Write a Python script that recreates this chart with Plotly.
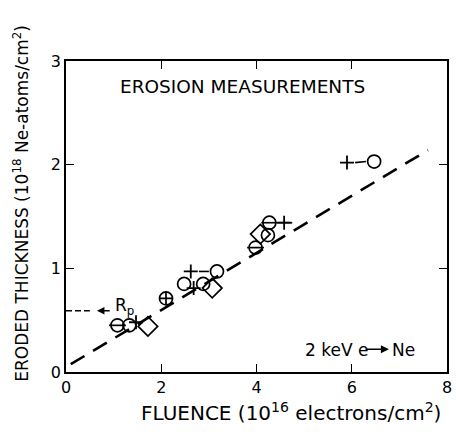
import plotly.graph_objects as go

# data (fluence in 1e16 e/cm2, eroded thickness in 1e18 Ne-atoms/cm2)
circle_x = [1.33, 2.48, 2.88, 3.17, 4.24, 4.27, 6.47]
circle_y = [0.45, 0.85, 0.85, 0.97, 1.32, 1.44, 2.03]
circle_minus_x = [1.08, 3.98]
circle_minus_y = [0.45, 1.20]
circle_plus_x = [2.10]
circle_plus_y = [0.71]
diamond_x = [1.72, 3.07, 4.08]
diamond_y = [0.44, 0.81, 1.33]
plus_x = [1.47, 2.68, 2.62, 4.58, 5.90]
plus_y = [0.48, 0.81, 0.97, 1.44, 2.02]
# pairs (plus index, circle index) joined by a short dash
pairs = [(2, 3), (3, 5), (4, 6)]
fit_x = [0.10, 7.60]
fit_y = [0.075, 2.14]
rp_value = 0.59

FONT = "DejaVu Sans"
fig = go.Figure()

fig.add_trace(go.Scatter(x=fit_x, y=fit_y, mode="lines",
                         line=dict(color="black", width=2.6, dash="16px,10px")))

# short connectors between + and circle
for pi, ci in pairs:
    x0, x1 = plus_x[pi], circle_x[ci]
    y0, y1 = plus_y[pi], circle_y[ci]
    g = 0.17
    fig.add_trace(go.Scatter(x=[x0 + g, x1 - g], y=[y0, y1],
                             mode="lines", line=dict(color="black", width=1.6)))

mk = dict(color="black", size=13, line=dict(color="black", width=1.7))
fig.add_trace(go.Scatter(x=circle_x, y=circle_y, mode="markers",
                         marker=dict(symbol="circle-open", **mk)))
fig.add_trace(go.Scatter(x=circle_minus_x, y=circle_minus_y, mode="markers",
                         marker=dict(symbol="circle-open", **mk)))
fig.add_trace(go.Scatter(x=circle_minus_x, y=circle_minus_y, mode="markers",
                         marker=dict(symbol="line-ew-open", color="black", size=12,
                                     line=dict(color="black", width=1.7))))
fig.add_trace(go.Scatter(x=circle_plus_x, y=circle_plus_y, mode="markers",
                         marker=dict(symbol="circle-cross-open", **mk)))
fig.add_trace(go.Scatter(x=diamond_x, y=diamond_y, mode="markers",
                         marker=dict(symbol="diamond-open", color="black", size=15,
                                     line=dict(color="black", width=1.7))))
fig.add_trace(go.Scatter(x=plus_x, y=plus_y, mode="markers",
                         marker=dict(symbol="cross-thin-open", color="black", size=10,
                                     line=dict(color="black", width=1.8))))

# Rp marker on the y axis
fig.add_trace(go.Scatter(x=[0, 0.5], y=[rp_value, rp_value], mode="lines",
                         line=dict(color="black", width=1.5, dash="6px,3px")))
fig.add_annotation(x=0.65, y=rp_value, ax=0.95, ay=rp_value, xref="x", yref="y",
                   axref="x", ayref="y", showarrow=True, arrowhead=2, arrowsize=1,
                   arrowwidth=1.5, arrowcolor="black", text="")
fig.add_annotation(x=0.98, y=rp_value + 0.04, xref="x", yref="y", xanchor="left",
                   yanchor="middle", showarrow=False,
                   text="R<sub>p</sub>", font=dict(family=FONT, size=17, color="black"))

fig.add_annotation(x=3.7, y=2.75, xref="x", yref="y", showarrow=False,
                   text="EROSION MEASUREMENTS",
                   font=dict(family=FONT, size=18.5, color="black"))
fig.add_annotation(x=4.97, y=0.21, xref="x", yref="y", xanchor="left", showarrow=False,
                   text="2 keV e", font=dict(family=FONT, size=17, color="black"))
fig.add_annotation(x=6.78, y=0.22, ax=6.26, ay=0.22, xref="x", yref="y",
                   axref="x", ayref="y", showarrow=True, arrowhead=2, arrowsize=1,
                   arrowwidth=1.6, arrowcolor="black", text="")
fig.add_annotation(x=6.8, y=0.21, xref="x", yref="y", xanchor="left", showarrow=False,
                   text="Ne", font=dict(family=FONT, size=17, color="black"))

# axis titles placed as in the reference
fig.add_annotation(x=0.59, y=-0.129, xref="paper", yref="paper", showarrow=False,
                   xanchor="center", yanchor="middle",
                   text="FLUENCE (10<sup>16</sup> electrons/cm<sup>2</sup>)",
                   font=dict(family=FONT, size=20, color="black"))
fig.add_annotation(x=-0.119, y=0.543, xref="paper", yref="paper", showarrow=False,
                   xanchor="center", yanchor="middle", textangle=-90,
                   text="ERODED THICKNESS (10<sup>18</sup> Ne-atoms/cm<sup>2</sup>)",
                   font=dict(family=FONT, size=17, color="black"))

axis_common = dict(showgrid=False, zeroline=False, showline=True, linecolor="black",
                   linewidth=1.5, mirror="ticks", ticks="inside", ticklen=8,
                   tickwidth=1.3, tickcolor="black",
                   tickfont=dict(family=FONT, size=16, color="black"))
fig.update_xaxes(range=[0, 8], tickvals=[0, 2, 4, 6, 8], **axis_common)
fig.update_yaxes(range=[0, 3], tickvals=[0, 1, 2, 3], **axis_common)

fig.update_layout(width=456, height=432, showlegend=False,
                  margin=dict(l=66, r=4, t=61, b=60),
                  plot_bgcolor="white", paper_bgcolor="white")
fig.write_html("out.html")
